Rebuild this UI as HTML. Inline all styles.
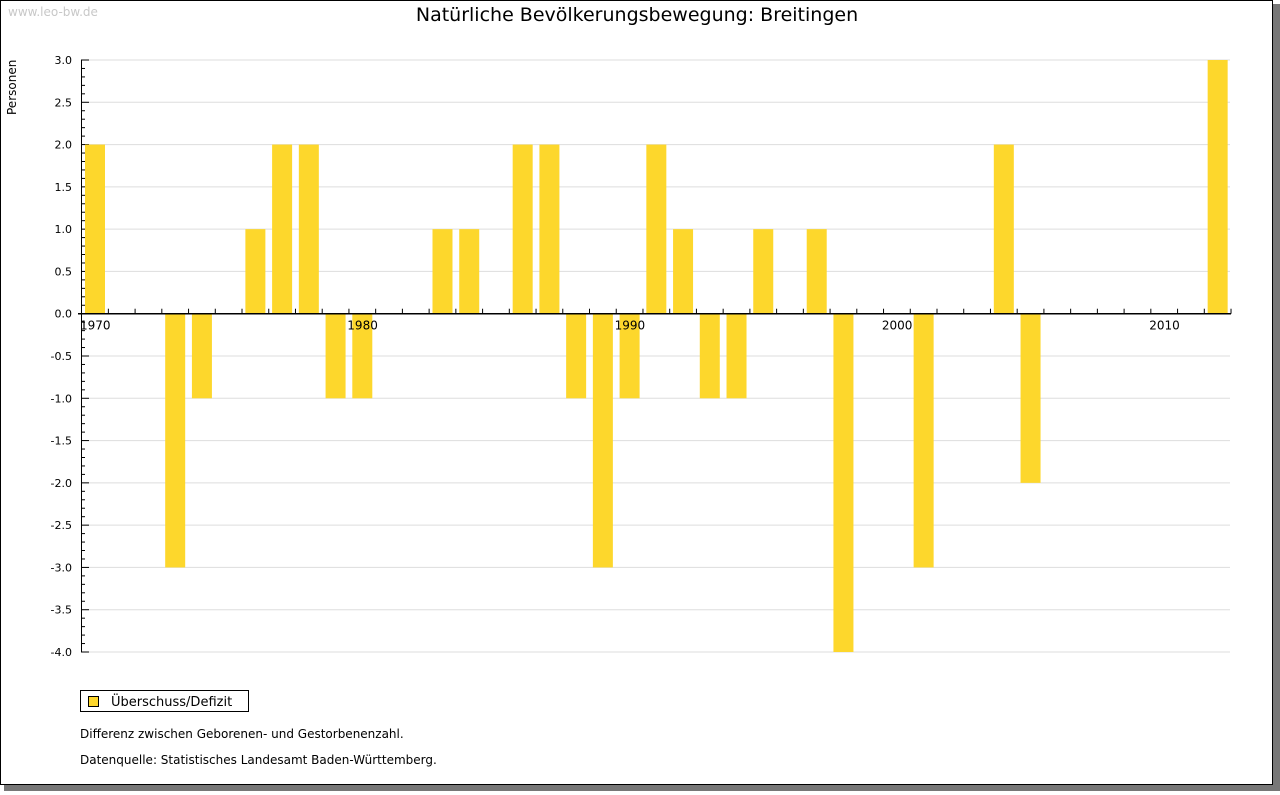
<!DOCTYPE html>
<html><head><meta charset="utf-8"><style>
body{margin:0;background:#fff;width:1280px;height:791px;overflow:hidden;font-family:"DejaVu Sans","Liberation Sans",sans-serif}
</style></head><body>
<svg id="s" width="1280" height="791" xmlns="http://www.w3.org/2000/svg" font-family="DejaVu Sans, Liberation Sans, sans-serif">
<rect x="4" y="4" width="1276" height="787" fill="#777"/>
<rect x="0.5" y="0.5" width="1272" height="784" fill="#fff" stroke="#000"/>
<text x="8" y="16" font-size="12" fill="#c8c8c8">www.leo-bw.de</text>
<text x="637" y="21" font-size="19" text-anchor="middle" fill="#000">Natürliche Bevölkerungsbewegung: Breitingen</text>
<text transform="translate(16,115) rotate(-90)" font-size="12" fill="#000">Personen</text>
<g id="g"></g>
<rect x="80.5" y="690.5" width="168" height="21" fill="#fff" stroke="#000"/>
<rect x="88.5" y="696.5" width="10" height="10" fill="#fdd72c" stroke="#000"/>
<text x="111" y="706" font-size="13">Überschuss/Defizit</text>
<text x="80" y="738" font-size="12">Differenz zwischen Geborenen- und Gestorbenenzahl.</text>
<text x="80" y="764" font-size="12">Datenquelle: Statistisches Landesamt Baden-Württemberg.</text>
</svg>
<script>
var g=document.getElementById('g'),h='';
var y0=60,u=592/7,z=y0+3*u;
function Y(v){return z-v*u}
for(var i=0;i<=14;i++){var v=3-i*0.5,y=Y(v);
h+='<line x1="82" x2="1230" y1="'+y+'" y2="'+y+'" stroke="#ddd"/>';
h+='<text x="72" y="'+(y+4)+'" font-size="11" text-anchor="end">'+v.toFixed(1)+'</text>';}
for(var i=0;i<=70;i++){var y=Y(3-i*0.1);h+='<line x1="81" x2="'+(i%5==0?89:85)+'" y1="'+y+'" y2="'+y+'" stroke="#000"/>';}
var d={1970:2,1973:-3,1974:-1,1976:1,1977:2,1978:2,1979:-1,1980:-1,1983:1,1984:1,1986:2,1987:2,1988:-1,1989:-3,1990:-1,1991:2,1992:1,1993:-1,1994:-1,1995:1,1997:1,1998:-4,2001:-3,2004:2,2005:-2,2012:3};
var p=26.73;
for(var k in d){var c=95+(k-1970)*p,v=d[k];var t=Math.min(Y(v),z),b=Math.max(Y(v),z);
h+='<rect x="'+(c-10)+'" y="'+t+'" width="20" height="'+(b-t)+'" fill="#fdd72c"/>';}
h+='<line x1="81.5" x2="81.5" y1="60" y2="652" stroke="#000"/>';
h+='<line x1="78" x2="1231" y1="'+z+'" y2="'+z+'" stroke="#000" stroke-width="1.5"/>';
for(var k=0;k<43;k++){var x=95+p/2+k*p;h+='<line x1="'+x+'" x2="'+x+'" y1="'+(z-5)+'" y2="'+z+'" stroke="#000"/>';}
[1970,1980,1990,2000,2010].forEach(function(yr){h+='<text x="'+(80+(yr-1970)*p)+'" y="'+(z+16)+'" font-size="12">'+yr+'</text>';});
g.innerHTML=h;
</script>
</body></html>
